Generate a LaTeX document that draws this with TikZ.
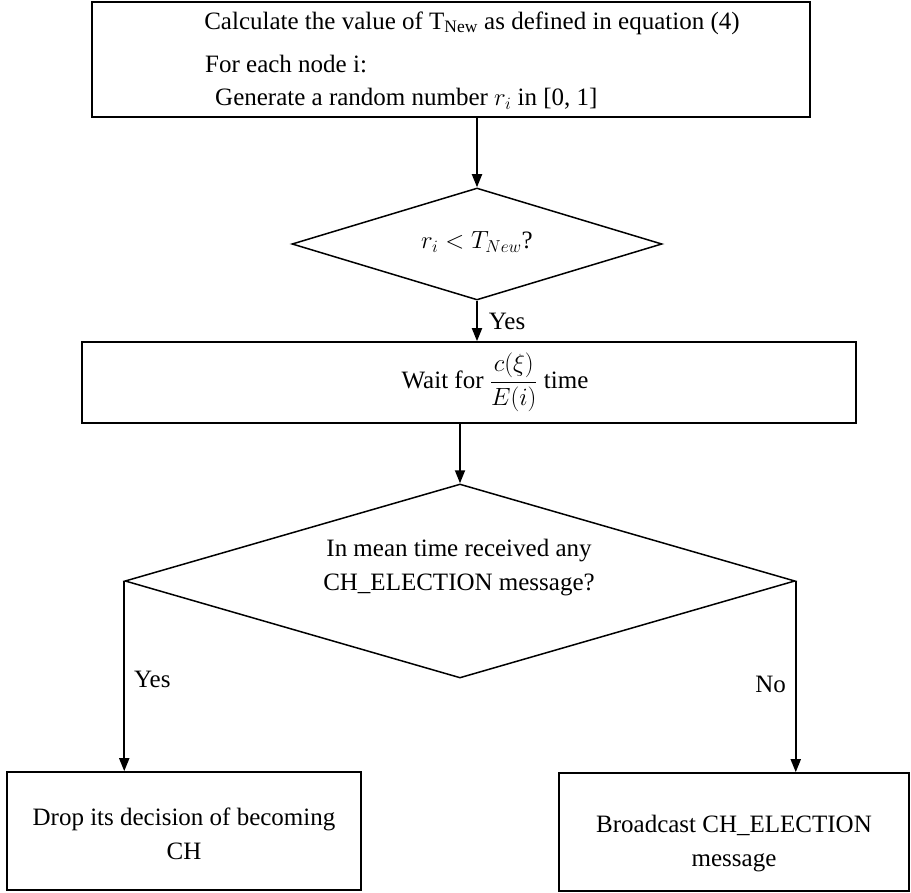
\documentclass[tikz,border=0pt]{standalone}
\usepackage{fontspec}
\setmainfont{Liberation Serif}
\usepackage{amsmath}
\usetikzlibrary{shapes.geometric,arrows.meta}
\tikzset{
  txt/.style={inner sep=0pt, font=\fontsize{25}{34}\selectfont},
  procbox/.style={draw, line width=1.6pt, inner sep=0pt},
  decision/.style={draw, diamond, line width=1.5pt, inner sep=0pt},
  flow/.style={line width=1.8pt, -{Triangle[length=13pt,width=10pt]}},
}

\begin{document}
\begin{tikzpicture}[x=1pt,y=-1pt]
\useasboundingbox (0,0) rectangle (911,893);
% first step
\node[procbox, minimum width=718pt, minimum height=115pt] (calc) at (451,59.5) {};
\node[txt] (calcA) at (472,23) {Calculate the value of T\textsubscript{New} as defined in equation (4)};
\node[txt, anchor=west] (calcB) at (205,64) {For each node i:};
\node[txt, anchor=west] (calcC) at (215,99) {Generate a random number $r_i$ in [0, 1]};
% first test
\node[decision, minimum width=370pt, minimum height=112pt] (test) at (477,244) {};
\node[txt] (testT) at (477,242) {$r_i < T_{New}$?};
\node[procbox, minimum width=774pt, minimum height=81pt] (wait) at (469,382.5) {};
\node[txt] (waitT) at (495,382.5) {Wait for $\dfrac{c(\xi)}{E(i)}$ time};
% second test
\node[decision, minimum width=670pt, minimum height=194pt] (choice) at (460,581) {};
\node[txt, align=center] (choiceT) at (459,568)
  {In mean time received any\\CH\_ELECTION message?};
\node[procbox, minimum width=354pt, minimum height=118pt] (drop) at (184,831) {};
\node[txt, align=center] (dropT) at (184,834)
  {Drop its decision of becoming\\CH};
\node[procbox, minimum width=350pt, minimum height=118pt] (cast) at (734,832) {};
\node[txt, align=center] (castT) at (734,844)
  {Broadcast CH\_ELECTION\\message};
% connectors
\draw[flow] (test.north |- calc.south) -- (test.north);
\draw[flow] (test.south) -- (test.south |- wait.north)
  node[txt, pos=0.5, anchor=west, xshift=11pt] (yesA) {Yes};
\draw[flow] (choice.north |- wait.south) -- (choice.north);
\draw[flow] (choice.west) -- (choice.west |- drop.north)
  node[txt, pos=0.52, anchor=west, xshift=9pt] (yesB) {Yes};
\draw[flow] (choice.east) -- (choice.east |- cast.north)
  node[txt, pos=0.54, anchor=east, xshift=-9pt] (noB) {No};
\end{tikzpicture}
\end{document}
